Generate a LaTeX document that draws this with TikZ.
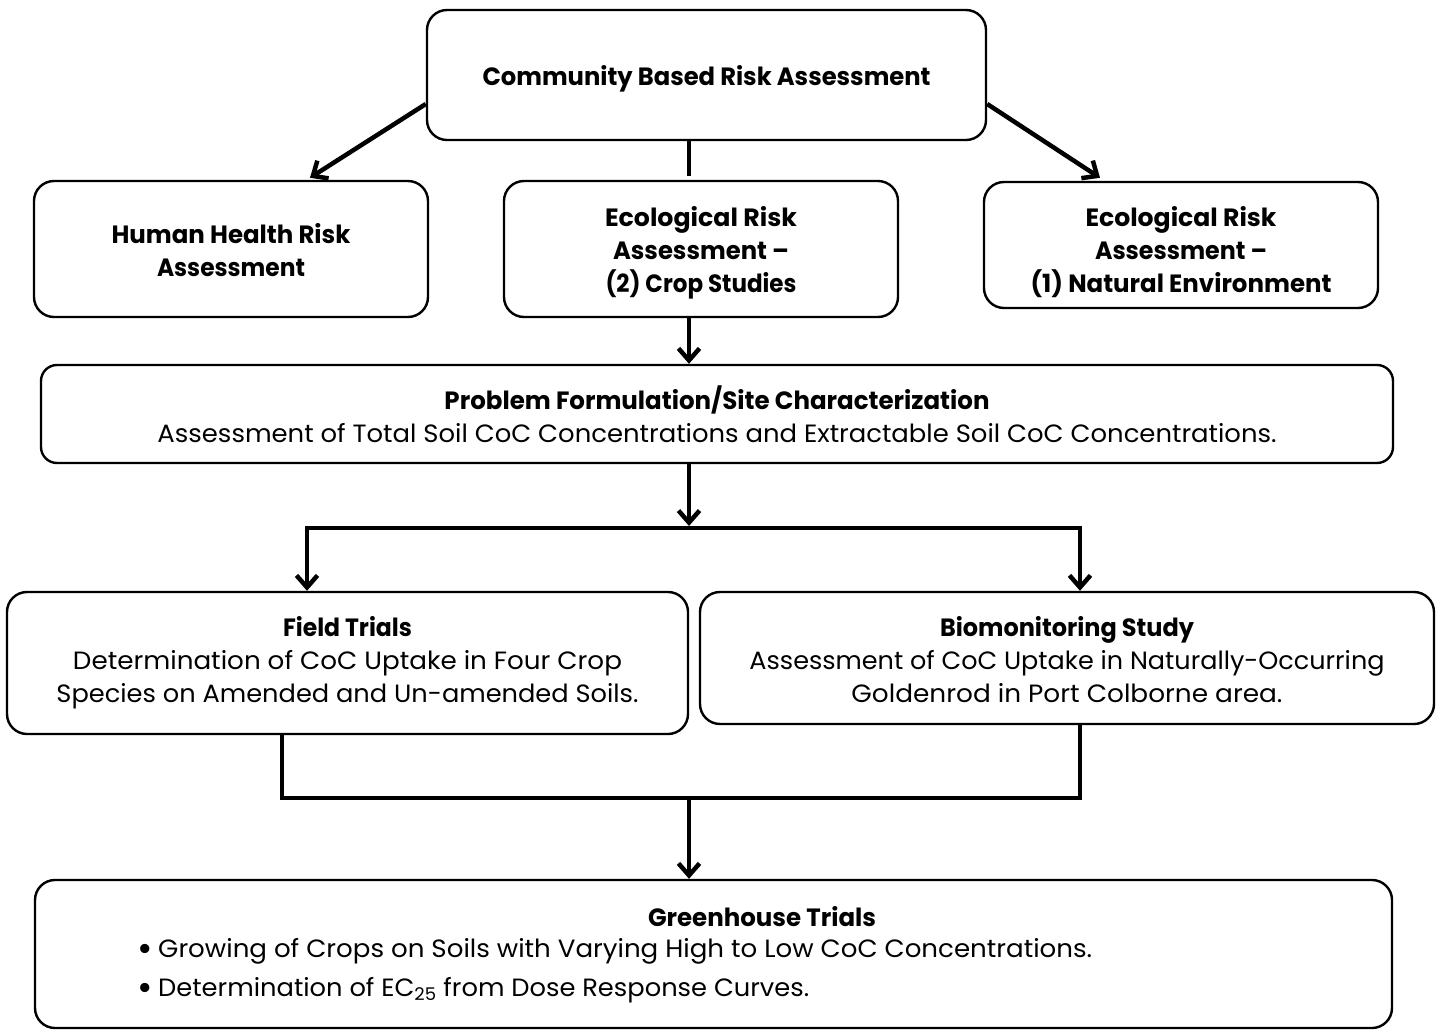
\documentclass[tikz,border=0pt]{standalone}
\usepackage{fontspec}
\setmainfont{Poppins}
\usepackage{graphicx}
\usetikzlibrary{arrows.meta,calc}
\newcommand{\tl}[2]{\resizebox{#1}{\height}{#2}}
\newcommand{\bul}{\makebox[21pt][l]{\raisebox{-4pt}{\scalebox{1.5}{•}}}}
\begin{document}
\begin{tikzpicture}[x=1pt,y=-1pt,
  box/.style={draw, line width=2.4pt, rounded corners=20pt, fill=white, inner sep=0pt},
  txt/.style={align=center, inner sep=0pt},
  conn/.style={line width=4.5pt},
  >={Straight Barb[length=12pt,width=21pt]},
  ttl/.style={txt, font=\fontsize{25}{33}\selectfont\bfseries},
  bdy/.style={txt, font=\fontsize{25}{33}\selectfont},
]
\useasboundingbox (0,0) rectangle (1443,1030);

% boxes
\node[box, minimum width=559pt, minimum height=130pt] (top) at (706.5,75) {};
\node[box, minimum width=394pt, minimum height=136pt] (hh) at (231,249) {};
\node[box, minimum width=394pt, minimum height=136pt] (eco2) at (701,249) {};
\node[box, minimum width=394pt, minimum height=126pt] (eco1) at (1181,245) {};
\node[box, rounded corners=16pt, minimum width=1352pt, minimum height=98pt] (prob) at (717,414) {};
\node[box, minimum width=681pt, minimum height=142pt] (field) at (347.5,663) {};
\node[box, minimum width=734pt, minimum height=132pt] (bio) at (1067,658) {};
\node[box, minimum width=1357pt, minimum height=148pt] (green) at (713.5,954) {};

% texts
\node[ttl] (topt) at ($(top)+(0,4)$) {\tl{448pt}{Community Based Risk Assessment}};
\node[ttl] (hht) at ($(hh)+(0,1)$) {\tl{239pt}{Human Health Risk}\\\tl{148pt}{Assessment}};
\node[ttl] (eco2t) at ($(eco2)+(0,4)$)
  {\tl{192pt}{Ecological Risk}\\\tl{176pt}{Assessment –}\\\tl{191pt}{(2) Crop Studies}};
\node[ttl] (eco1t) at ($(eco1)+(0,7)$)
  {\tl{191pt}{Ecological Risk}\\\tl{172pt}{Assessment –}\\\tl{301pt}{(1) Natural Environment}};
\node[bdy] (probt) at (prob)
  {{\bfseries\tl{545pt}{Problem Formulation/Site Characterization}}\\
   \tl{1119pt}{Assessment of Total Soil CoC Concentrations and Extractable Soil CoC Concentrations.}};
\node[bdy] (fieldt) at (field)
  {{\bfseries\tl{129pt}{Field Trials}}\\
   \tl{549pt}{Determination of CoC Uptake in Four Crop}\\
   \tl{582pt}{Species on Amended and Un-amended Soils.}};
\node[bdy] (biot) at ($(bio)+(0,1.5)$)
  {{\bfseries\tl{254pt}{Biomonitoring Study}}\\
   \tl{635pt}{Assessment of CoC Uptake in Naturally-Occurring}\\
   \tl{431pt}{Goldenrod in Port Colborne area.}};
\node[ttl, anchor=base] (gt) at (762,926) {\tl{228pt}{Greenhouse Trials}};
\node[bdy, anchor=base west] (g1) at (137,957)
  {\bul\tl{934pt}{Growing of Crops on Soils with Varying High to Low CoC Concentrations.}};
\node[bdy, anchor=base west] (g2) at (137,996)
  {\bul\tl{651pt}{Determination of EC\textsubscript{25} from Dose Response Curves.}};

% helper coordinates
\coordinate (cx) at (689,0);
\coordinate (bl) at (307,528);
\coordinate (brr) at (1080,528);
\coordinate (fb) at (282,798);
\coordinate (bb) at (1080,798);

% connectors
\draw[conn,->] ($(top.west)+(0,29)$) -- ($(hh.north)+(79,-2)$);
\draw[conn,->] ($(top.east)+(0,29)$) -- ($(eco1.north)+(-81,-3)$);
\draw[conn] (top.south -| cx) -- ($(eco2.north -| cx)+(0,-4)$);
\draw[conn,->] (eco2.south -| cx) -- (prob.north -| cx);
\draw[conn,->] (prob.south -| cx) -- ($(bl -| cx)+(0,-2)$);
\draw[conn,<->] (field.north -| bl) -- (bl) -- (brr) -- (bio.north -| brr);
\draw[conn] (field.south -| fb) -- (fb) -- (bb) -- (bio.south -| bb);
\draw[conn,->] (fb -| cx) -- (green.north -| cx);
\end{tikzpicture}
\end{document}
